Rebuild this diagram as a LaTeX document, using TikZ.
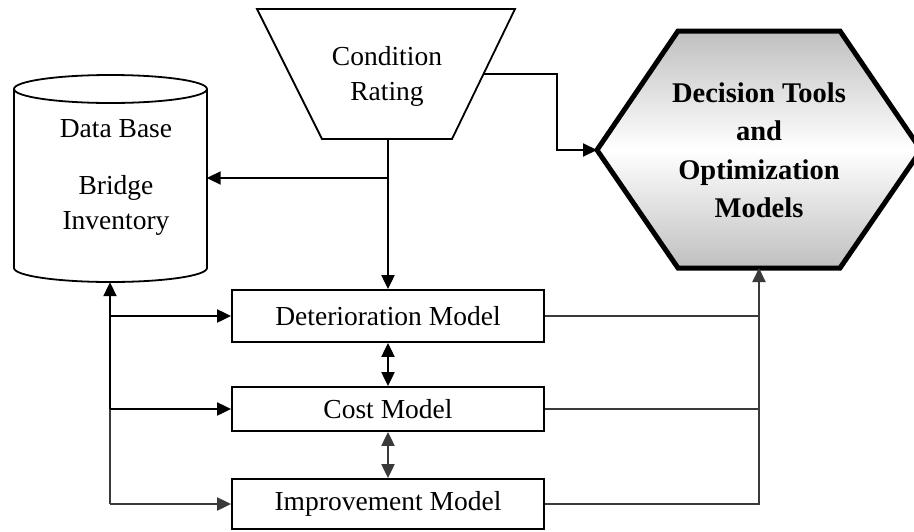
\documentclass[tikz,border=0pt]{standalone}
\usepackage{fontspec}
\setmainfont{Liberation Serif}
\usetikzlibrary{arrows.meta}
\definecolor{dk}{HTML}{3A3A3A}
\begin{document}
\begin{tikzpicture}[x=1pt,y=-1pt,
  txt/.style={font=\fontsize{27.5}{35}\selectfont, align=center, inner sep=0pt},
  modelbox/.style={draw, line width=1.8pt, minimum width=312pt, inner sep=0pt,
     font=\fontsize{27.5}{35}\selectfont},
  shapeline/.style={line width=1.8pt},
  conn/.style={line width=2pt, -{Triangle[length=14pt,width=13pt]}},
  dconn/.style={line width=2pt, {Triangle[length=14pt,width=13pt]}-{Triangle[length=14pt,width=13pt]}},
  plain/.style={line width=2pt}]
\useasboundingbox (0,0) rectangle (914,531);
\clip (0,0) rectangle (914,531);

% Data base cylinder
\node[minimum width=193pt, minimum height=207pt, inner sep=0pt] (db) at (110,178.5) {};
\draw[shapeline] (14,89) -- (14,268) arc[start angle=180, end angle=0, x radius=96.5, y radius=14] -- (207,89);
\draw[shapeline] (110.5,89) ellipse[x radius=96.5, y radius=14];
\node[txt] (dbtext) at (116,177) {Data Base\\[22pt]Bridge\\Inventory};

% Condition rating trapezoid
\draw[shapeline] (257,9) -- (515,9) -- (452,139) -- (322,139) -- cycle;
\node[txt] (cr) at (387,76) {Condition\\Rating};
\coordinate (crb) at (388,139);
\coordinate (crr) at (483,74);
\coordinate (jn) at (388,178);

% Decision tools hexagon
\draw[line width=5pt, top color=gray!50, bottom color=gray!50, middle color=white]
  (597,150) -- (678,31) -- (840,31) -- (921,150) -- (840,268) -- (678,268) -- cycle;
\node[txt, font=\fontsize{28.5}{38.5}\selectfont\bfseries] (dt) at (759,150)
  {Decision Tools\\and\\Optimization\\Models};
\coordinate (dtw) at (597,150);
\coordinate (dts) at (759,268);

% Model boxes
\node[modelbox, minimum height=52pt] (det) at (388,316) {Deterioration Model};
\node[modelbox, minimum height=44pt] (cost) at (388,409) {Cost Model};
\node[modelbox, minimum height=50pt] (imp) at (388,504) {Improvement Model};

% Connectors
\draw[conn] (crb) -- (det.north);
\draw[conn] (jn) -- (jn -| db.east);
\draw[conn] (crr) -- ++(74,0) |- (dtw);

\draw[dconn] (det.south) -- (cost.north);
\draw[dconn, color=dk] (cost.south) -- (imp.north);

\draw[conn] (cost.west -| db.south) -- (db.south);
\draw[plain, color=dk] (imp.west -| db.south) -- (cost.west -| db.south);
\draw[conn] (det.west -| db.south) -- (det.west);
\draw[conn] (cost.west -| db.south) -- (cost.west);
\draw[conn, color=dk] (imp.west -| db.south) -- (imp.west);

\draw[conn, color=dk] (imp.east) -| (dts);
\draw[plain, color=dk] (det.east) -- (det.east -| dts);
\draw[plain, color=dk] (cost.east) -- (cost.east -| dts);
\end{tikzpicture}
\end{document}
